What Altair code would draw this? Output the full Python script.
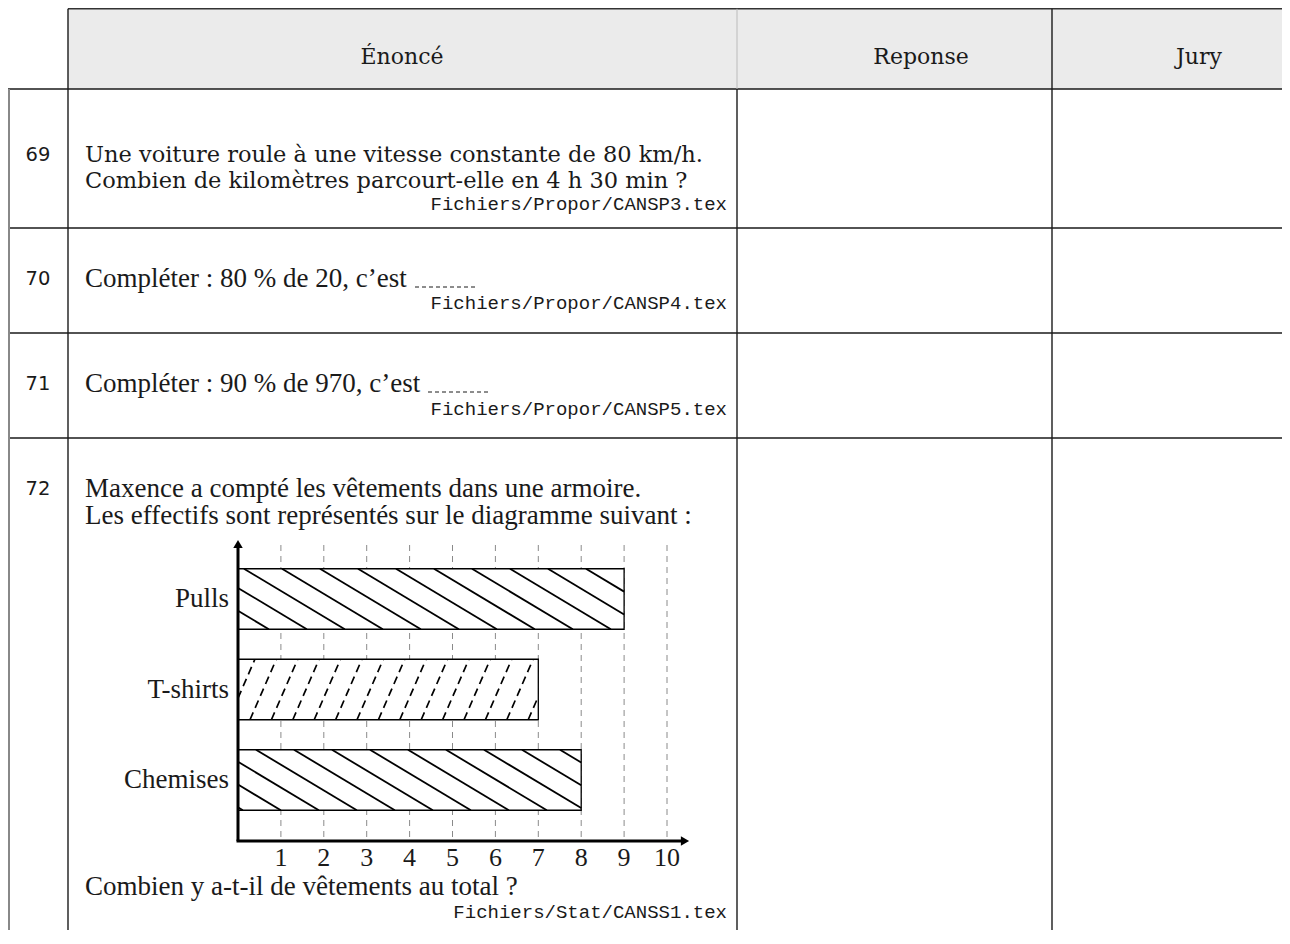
import math
import altair as alt
import pandas as pd

# ---------------- data ----------------
categories = ["Pulls", "T-shirts", "Chemises"]
counts = [9, 7, 8]
tick_values = [1, 2, 3, 4, 5, 6, 7, 8, 9, 10]
tick_labels = ["1", "2", "3", "4", "5", "6", "7", "8", "9", "10"]
row_numbers = ["69", "70", "71", "72"]
headers = ["Énoncé", "Reponse", "Jury"]

# ---------------- layout (image pixels) ----------------
OFF = 8
W, H = 1274, 922


def P(v):
    return v - OFF


SERIF_W = "DejaVu Serif"
SERIF = "Liberation Serif"
MONO = "Liberation Mono"
SANS = "DejaVu Sans"
INK = "#1a1a1a"
BODY = 27

one = pd.DataFrame({"k": [0]})
layers = []


def txt(s, x, y, font, size, align="left", color=INK):
    return alt.Chart(one).mark_text(
        font=font, fontSize=size, align=align, baseline="middle", color=color
    ).encode(x=alt.value(P(x)), y=alt.value(P(y)), text=alt.value(s))


def hrule(y, x1, x2, color=INK, w=1.4, dash=None):
    kw = dict(color=color, strokeWidth=w)
    if dash:
        kw["strokeDash"] = dash
    return alt.Chart(one).mark_rule(**kw).encode(
        x=alt.value(P(x1)), x2=alt.value(P(x2)), y=alt.value(P(y)))


def vrule(x, y1, y2, color=INK, w=1.4):
    return alt.Chart(one).mark_rule(color=color, strokeWidth=w).encode(
        x=alt.value(P(x)), y=alt.value(P(y1)), y2=alt.value(P(y2)))


# table geometry
X_L, X_NUM, X_EN, X_REP, X_R = 9, 68, 737, 1052, 1282
Y_T, Y_H = 8.8, 89
ROW_LINES = [228, 333, 438]
Y_B = 944

# header background
layers.append(alt.Chart(one).mark_rect(color="#ebebeb").encode(
    x=alt.value(P(X_NUM)), x2=alt.value(P(X_R)),
    y=alt.value(P(Y_T)), y2=alt.value(P(Y_H))))
layers.append(hrule(Y_T, X_NUM, X_R, color="#333", w=1.5))
layers.append(hrule(Y_H, X_L - 1, X_R))
for yl in ROW_LINES:
    layers.append(hrule(yl, X_L - 1, X_R))
layers.append(vrule(X_L, Y_H, Y_B, color="#888", w=2))
layers.append(vrule(X_NUM, Y_T, Y_B))
layers.append(vrule(X_EN, Y_T, Y_H, color="#bbb", w=1))
layers.append(vrule(X_EN, Y_H, Y_B))
layers.append(vrule(X_REP, Y_T, Y_B))

# header texts
for s, xc in zip(headers, [402, 921, 1199]):
    layers.append(txt(s, xc, 57, SERIF_W, 22, align="center"))

# row numbers
for s, yc in zip(row_numbers, [155, 279, 384, 489]):
    layers.append(txt(s, 38, yc, SANS, 19.5, align="center"))

TX = 85
FX = 727
MONO_SIZE = 19
# row 69
layers.append(txt("Une voiture roule à une vitesse constante de 80 km/h.", TX, 155, SERIF_W, 22.5))
layers.append(txt("Combien de kilomètres parcourt-elle en 4 h 30 min ?", TX, 181, SERIF_W, 22.5))
layers.append(txt("Fichiers/Propor/CANSP3.tex", FX, 204, MONO, MONO_SIZE, align="right"))
# row 70
layers.append(txt("Compléter : 80 % de 20, c’est", TX, 279, SERIF, BODY))
layers.append(hrule(287, 415, 475, w=1, dash=[4, 3]))
layers.append(txt("Fichiers/Propor/CANSP4.tex", FX, 303, MONO, MONO_SIZE, align="right"))
# row 71
layers.append(txt("Compléter : 90 % de 970, c’est", TX, 384, SERIF, BODY))
layers.append(hrule(392, 428, 489, w=1, dash=[4, 3]))
layers.append(txt("Fichiers/Propor/CANSP5.tex", FX, 409, MONO, MONO_SIZE, align="right"))
# row 72
layers.append(txt("Maxence a compté les vêtements dans une armoire.", TX, 489, SERIF, BODY))
layers.append(txt("Les effectifs sont représentés sur le diagramme suivant :", TX, 516, SERIF, BODY))
layers.append(txt("Combien y a-t-il de vêtements au total ?", TX, 887, SERIF, BODY))
layers.append(txt("Fichiers/Stat/CANSS1.tex", FX, 912, MONO, MONO_SIZE, align="right"))

# ---------------- bar chart ----------------
X0_PX, X10_PX = 238, 667
Y0_PX, Y2_PX = 599, 780
UX = (X10_PX - X0_PX) / 10.0
UY = (Y2_PX - Y0_PX) / 2.0
HALF = 30.25 / UY  # half bar thickness in category units

XS = alt.Scale(domain=[0, 10], range=[P(X0_PX), P(X10_PX)], nice=False, zero=False)
YS = alt.Scale(domain=[0, 2], range=[P(Y0_PX), P(Y2_PX)], nice=False, zero=False)

bar_df = pd.DataFrame({"cat": categories, "n": counts, "idx": list(range(len(categories)))})
bar_df["start"] = 0
tick_df = pd.DataFrame({"v": tick_values, "label": tick_labels})

# hatch pattern segments derived from each bar's extent
segs = []
for i, (cat, n) in enumerate(zip(categories, counts)):
    top = -HALF * UY  # relative px to category center
    hpx = 2 * HALF * UY
    L, R = 0.0, n * UX
    if cat == "T-shirts":
        t, d, c0, style = 2.3, 21.4, 12.0, "dash"
        run = hpx / t
        k = -math.ceil(run / d) - 1
        while True:
            c = c0 + k * d
            if c > R:
                break
            xa, xb = max(c, L), min(c + run, R)
            if xb - xa > 0.3:
                ya = hpx / 2 - t * (xa - c)
                yb = hpx / 2 - t * (xb - c)
                segs.append((xa / UX, i + ya / UY, xb / UX, i + yb / UY, style))
            k += 1
    else:
        s_, d, style = 0.6, 38.0, "solid"
        c0 = 6.0 if i == 0 else 18.0
        run = hpx / s_
        k = -math.ceil(run / d) - 1
        while True:
            c = c0 + k * d
            if c > R:
                break
            xa, xb = max(c, L), min(c + run, R)
            if xb - xa > 0.3:
                ya = top + s_ * (xa - c)
                yb = top + s_ * (xb - c)
                segs.append((xa / UX, i + ya / UY, xb / UX, i + yb / UY, style))
            k += 1
hatch_df = pd.DataFrame(segs, columns=["x1", "y1", "x2", "y2", "style"])

grid = alt.Chart(tick_df).mark_rule(color="#8a8a8a", strokeDash=[6, 5], strokeWidth=1).encode(
    x=alt.X("v:Q", scale=XS, axis=None), y=alt.value(P(545)), y2=alt.value(P(841)))

bar_base = alt.Chart(bar_df).transform_calculate(
    lo=f"datum.idx - {HALF}", hi=f"datum.idx + {HALF}")
bars_fill = bar_base.mark_rect(fill="white").encode(
    x=alt.X("start:Q", scale=XS, axis=None), x2="n:Q",
    y=alt.Y("lo:Q", scale=YS, axis=None), y2="hi:Q")

hatch_solid = alt.Chart(hatch_df).transform_filter("datum.style == 'solid'").mark_rule(
    color="black", strokeWidth=1.8).encode(
    x=alt.X("x1:Q", scale=XS, axis=None), x2="x2:Q",
    y=alt.Y("y1:Q", scale=YS, axis=None), y2="y2:Q")
hatch_dash = alt.Chart(hatch_df).transform_filter("datum.style == 'dash'").mark_rule(
    color="black", strokeWidth=1.7, strokeDash=[8, 5]).encode(
    x=alt.X("x1:Q", scale=XS, axis=None), x2="x2:Q",
    y=alt.Y("y1:Q", scale=YS, axis=None), y2="y2:Q")

bars_outline = bar_base.mark_rect(fillOpacity=0, stroke="black", strokeWidth=1.3).encode(
    x=alt.X("start:Q", scale=XS, axis=None), x2="n:Q",
    y=alt.Y("lo:Q", scale=YS, axis=None), y2="hi:Q")

cat_labels = alt.Chart(bar_df).mark_text(
    font=SERIF, fontSize=BODY, align="right", baseline="middle", color=INK).encode(
    x=alt.value(P(229)), y=alt.Y("idx:Q", scale=YS, axis=None), text="cat:N")

tick_text = alt.Chart(tick_df).mark_text(
    font=SERIF, fontSize=26, align="center", baseline="middle", color=INK).encode(
    x=alt.X("v:Q", scale=XS, axis=None), y=alt.value(P(858)), text="label:N")

axis_y = vrule(X0_PX, 841, 548, color="black", w=3)
axis_x = hrule(841, X0_PX - 1.5, 682, color="black", w=3)
arrow_up = alt.Chart(one).mark_point(shape="triangle-up", filled=True, color="black",
                                     size=90, opacity=1).encode(
    x=alt.value(P(X0_PX)), y=alt.value(P(544)))
arrow_right = alt.Chart(one).mark_point(shape="triangle-right", filled=True, color="black",
                                        size=90, opacity=1).encode(
    x=alt.value(P(685)), y=alt.value(P(841)))

layers += [grid, bars_fill, hatch_solid, hatch_dash, bars_outline,
           axis_y, axis_x, arrow_up, arrow_right, cat_labels, tick_text]

chart = alt.layer(*layers).properties(
    width=W, height=H, padding=0,
    autosize=alt.AutoSizeParams(type="none"),
    background="white",
).configure_view(strokeWidth=0)

chart.save("out.html", embed_options={"renderer": "svg", "actions": False})
